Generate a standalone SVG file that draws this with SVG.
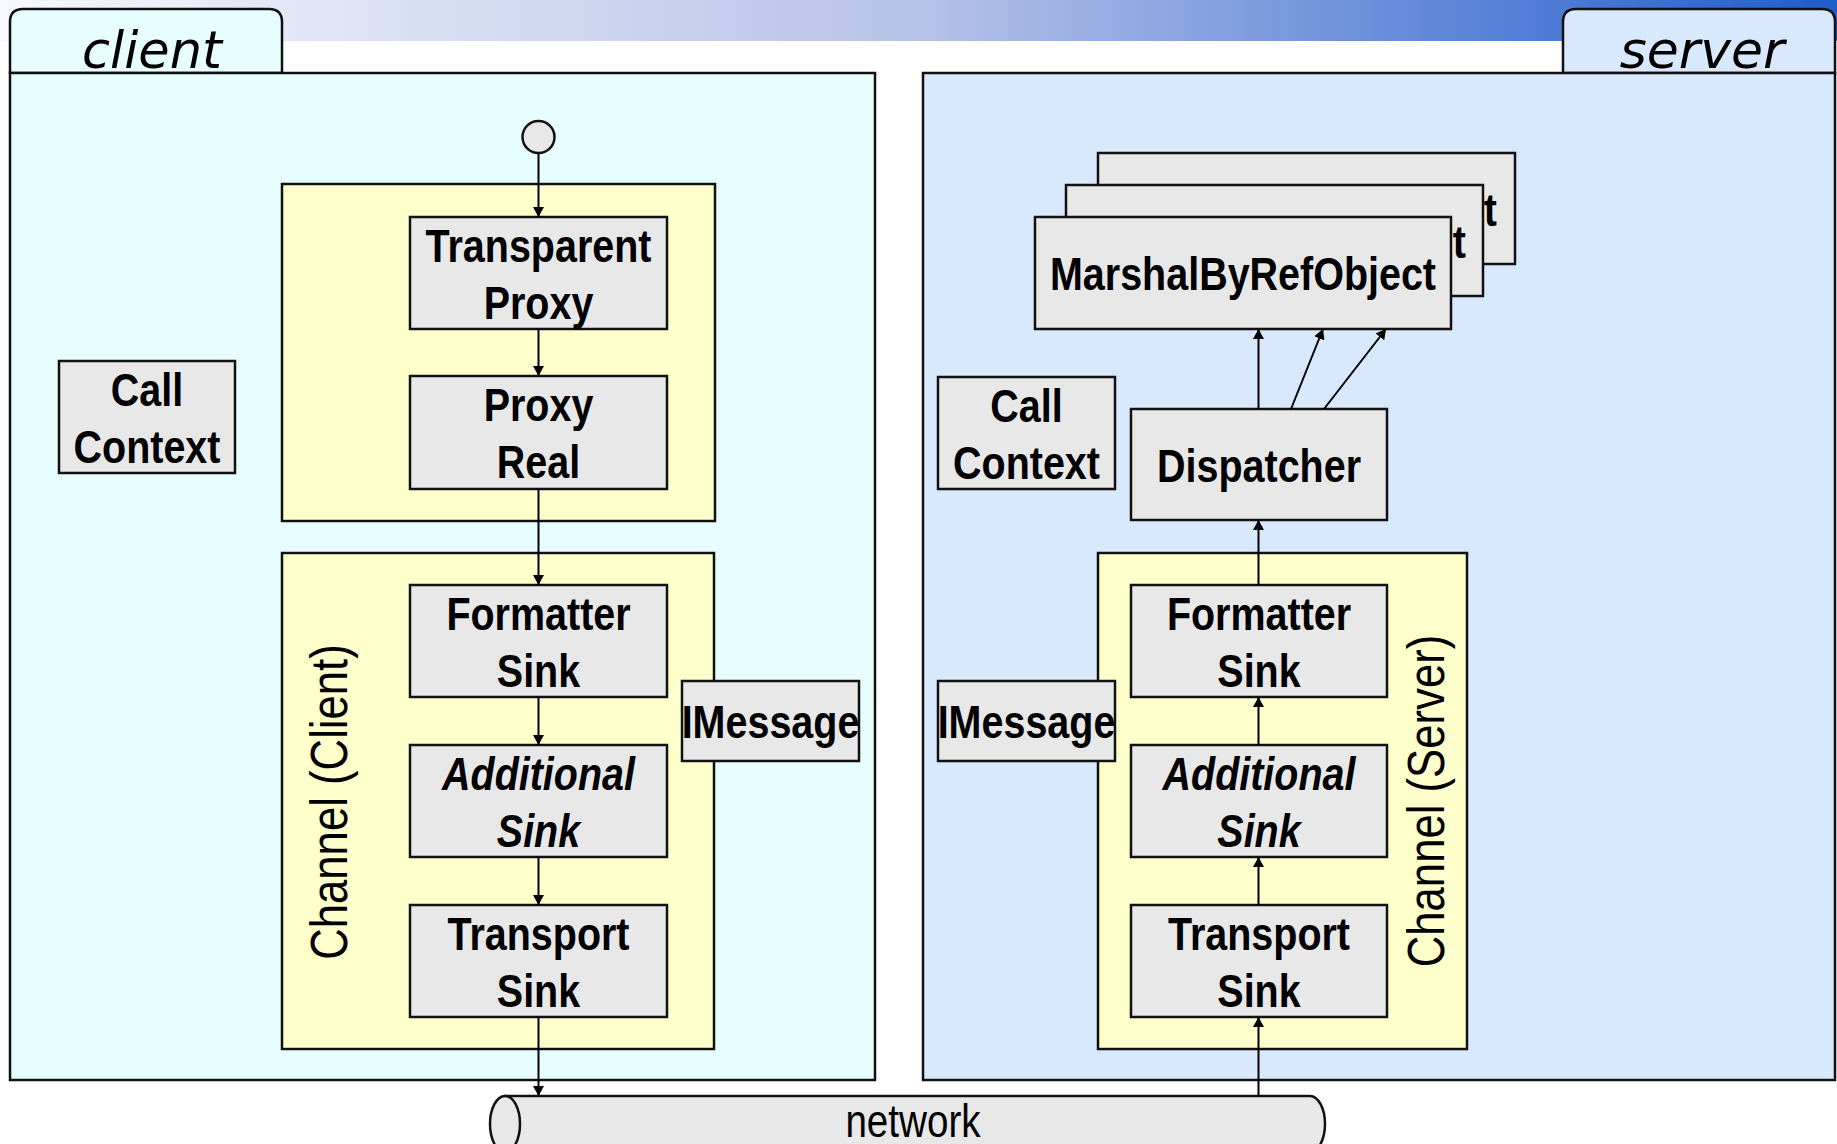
<svg xmlns="http://www.w3.org/2000/svg" width="1837" height="1144" viewBox="0 0 1837 1144">
<defs>
<linearGradient id="band" x1="0" y1="0" x2="1837" y2="0" gradientUnits="userSpaceOnUse">
<stop offset="0" stop-color="#f6f8fd"/>
<stop offset="0.5" stop-color="#b6c2e8"/>
<stop offset="0.85" stop-color="#4c7ad5"/>
<stop offset="1" stop-color="#1d5ecb"/>
</linearGradient>
<marker id="ah" viewBox="0 0 10 11" refX="10" refY="5.5" markerWidth="10" markerHeight="11" markerUnits="userSpaceOnUse" orient="auto">
<path d="M0,0 L10,5.5 L0,11 z" fill="#000"/>
</marker>
<style>
.n{fill:#e8e8e8;stroke:#111;stroke-width:2.5}
.yl{fill:#ffffcc;stroke:#111;stroke-width:2.5}
.t{font-family:"Liberation Sans",Arial,sans-serif;font-weight:bold;font-size:47px;text-anchor:middle;fill:#000}
.it{font-style:italic}
.ch{font-family:"Liberation Sans",Arial,sans-serif;font-size:52px;text-anchor:middle;fill:#000}
.tab{font-family:"DejaVu Sans",sans-serif;font-style:italic;font-size:52px;text-anchor:middle;fill:#000}
.net{font-family:"Liberation Sans",Arial,sans-serif;font-size:46px;text-anchor:middle;fill:#000}
.cn line{stroke:#000;stroke-width:2;marker-end:url(#ah)}
</style>
</defs>
<rect x="0" y="0" width="1837" height="1144" fill="#ffffff"/>
<rect x="0" y="0" width="1837" height="41" fill="url(#band)"/>

<g id="client">
<path d="M10,73 V22 Q10,9 23,9 H269 Q282,9 282,22 V73 Z" fill="#e6feff" stroke="#111" stroke-width="2.5"/>
<text class="tab" transform="translate(152,68) scale(0.98,1)">client</text>
<rect x="10" y="73" width="865" height="1007" fill="#e6feff" stroke="#111" stroke-width="2.5"/>
</g>
<g id="server">
<path d="M1563,73 V22 Q1563,9 1576,9 H1822 Q1835,9 1835,22 V73 Z" fill="#d9e9fd" stroke="#111" stroke-width="2.5"/>
<text class="tab" transform="translate(1702,68)">server</text>
<rect x="923" y="73" width="912" height="1007" fill="#d9e9fd" stroke="#111" stroke-width="2.5"/>
</g>

<g id="proxy-group">
<rect class="yl" x="282" y="184" width="433" height="337"/>
</g>
<g id="channel-client">
<rect class="yl" x="282" y="553" width="432" height="496"/>
<text class="ch" transform="translate(347,802) rotate(-90) scale(0.84,1)">Channel (Client)</text>
</g>
<g id="channel-server">
<rect class="yl" x="1098" y="553" width="369" height="496"/>
<text class="ch" transform="translate(1444,801) rotate(-90) scale(0.84,1)">Channel (Server)</text>
</g>

<g id="start">
<circle cx="538.5" cy="137" r="16" fill="#e8e8e8" stroke="#111" stroke-width="2.5"/>
</g>
<g id="transparent-proxy">
<rect class="n" x="410" y="217" width="257" height="112"/>
<text class="t" transform="translate(538.5,261.5) scale(0.84,1)">Transparent</text>
<text class="t" transform="translate(538.5,318.5) scale(0.84,1)">Proxy</text>
</g>
<g id="proxy-real">
<rect class="n" x="410" y="376" width="257" height="113"/>
<text class="t" transform="translate(538.5,421) scale(0.84,1)">Proxy</text>
<text class="t" transform="translate(538.5,478) scale(0.84,1)">Real</text>
</g>
<g id="formatter-client">
<rect class="n" x="410" y="585" width="257" height="112"/>
<text class="t" transform="translate(538.5,629.5) scale(0.84,1)">Formatter</text>
<text class="t" transform="translate(538.5,686.5) scale(0.84,1)">Sink</text>
</g>
<g id="additional-client">
<rect class="n" x="410" y="745" width="257" height="112"/>
<text class="t it" transform="translate(538.5,789.5) scale(0.84,1)">Additional</text>
<text class="t it" transform="translate(538.5,846.5) scale(0.84,1)">Sink</text>
</g>
<g id="transport-client">
<rect class="n" x="410" y="905" width="257" height="112"/>
<text class="t" transform="translate(538.5,949.5) scale(0.84,1)">Transport</text>
<text class="t" transform="translate(538.5,1006.5) scale(0.84,1)">Sink</text>
</g>
<g id="callcontext-client">
<rect class="n" x="59" y="361" width="176" height="112"/>
<text class="t" transform="translate(147,405.5) scale(0.84,1)">Call</text>
<text class="t" transform="translate(147,462.5) scale(0.84,1)">Context</text>
</g>
<g id="imessage-client">
<rect class="n" x="682" y="681" width="177" height="80"/>
<text class="t" transform="translate(770.5,738) scale(0.84,1)">IMessage</text>
</g>

<g id="mbro-back">
<rect class="n" x="1098" y="153" width="417" height="111"/>
<text class="t" transform="translate(1497,226) scale(0.84,1)" style="text-anchor:end">ct</text>
</g>
<g id="mbro-middle">
<rect class="n" x="1066" y="185" width="417" height="111"/>
<text class="t" transform="translate(1466,258) scale(0.84,1)" style="text-anchor:end">ct</text>
</g>
<g id="mbro-front">
<rect class="n" x="1035" y="217" width="416" height="112"/>
<text class="t" transform="translate(1243,290) scale(0.84,1)">MarshalByRefObject</text>
</g>
<g id="dispatcher">
<rect class="n" x="1131" y="409" width="256" height="111"/>
<text class="t" transform="translate(1259,481.5) scale(0.84,1)">Dispatcher</text>
</g>
<g id="callcontext-server">
<rect class="n" x="938" y="377" width="177" height="112"/>
<text class="t" transform="translate(1026.5,421.5) scale(0.84,1)">Call</text>
<text class="t" transform="translate(1026.5,478.5) scale(0.84,1)">Context</text>
</g>
<g id="formatter-server">
<rect class="n" x="1131" y="585" width="256" height="112"/>
<text class="t" transform="translate(1259,629.5) scale(0.84,1)">Formatter</text>
<text class="t" transform="translate(1259,686.5) scale(0.84,1)">Sink</text>
</g>
<g id="additional-server">
<rect class="n" x="1131" y="745" width="256" height="112"/>
<text class="t it" transform="translate(1259,789.5) scale(0.84,1)">Additional</text>
<text class="t it" transform="translate(1259,846.5) scale(0.84,1)">Sink</text>
</g>
<g id="transport-server">
<rect class="n" x="1131" y="905" width="256" height="112"/>
<text class="t" transform="translate(1259,949.5) scale(0.84,1)">Transport</text>
<text class="t" transform="translate(1259,1006.5) scale(0.84,1)">Sink</text>
</g>
<g id="imessage-server">
<rect class="n" x="938" y="681" width="177" height="80"/>
<text class="t" transform="translate(1026.5,738) scale(0.84,1)">IMessage</text>
</g>

<g id="network">
<path d="M505,1096 H1310 A15,28 0 0 1 1310,1152 H505 Z" fill="#e8e8e8" stroke="#111" stroke-width="2.5"/>
<ellipse cx="505" cy="1124" rx="15" ry="28" fill="#e8e8e8" stroke="#111" stroke-width="2.5"/>
<text class="net" transform="translate(913,1137) scale(0.84,1)">network</text>
</g>

<g id="connectors" class="cn">
<line x1="538.5" y1="153" x2="538.5" y2="217"/>
<line x1="538.5" y1="329" x2="538.5" y2="376"/>
<line x1="538.5" y1="489" x2="538.5" y2="585"/>
<line x1="538.5" y1="697" x2="538.5" y2="745"/>
<line x1="538.5" y1="857" x2="538.5" y2="905"/>
<line x1="538.5" y1="1017" x2="538.5" y2="1096"/>
<line x1="1258.5" y1="1096" x2="1258.5" y2="1017"/>
<line x1="1258.5" y1="905" x2="1258.5" y2="857"/>
<line x1="1258.5" y1="745" x2="1258.5" y2="697"/>
<line x1="1258.5" y1="585" x2="1258.5" y2="520"/>
<line x1="1258.5" y1="409" x2="1258.5" y2="329"/>
<line x1="1291" y1="409" x2="1323" y2="329"/>
<line x1="1324" y1="409" x2="1386" y2="329"/>
</g>
</svg>
